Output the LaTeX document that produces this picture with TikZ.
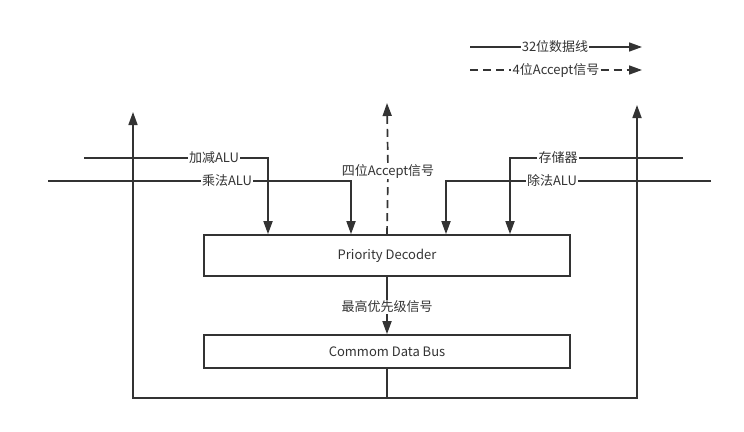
\documentclass[tikz,border=0pt]{standalone}
\usepackage{fontspec}
\setmainfont{Noto Sans CJK SC}
\usetikzlibrary{arrows.meta}
\definecolor{wiregray}{HTML}{333333}
\tikzstyle{bus}=[line width=1.7pt,draw=wiregray]
\tikzstyle{databus}=[bus,-{Triangle[length=13pt,width=9pt]}]
\tikzstyle{acceptbus}=[databus,dash pattern=on 8pt off 5pt]
\tikzstyle{unitbox}=[draw=wiregray,line width=1.7pt,minimum width=366pt,text=wiregray]
\tikzstyle{buslabel}=[fill=white,inner sep=1pt,text=wiregray]

\begin{document}
\begin{tikzpicture}[x=1pt,y=-1pt,font=\fontsize{13}{15}\selectfont]
  \useasboundingbox (0,0) rectangle (744,431);
  % boxes
  \node[unitbox,minimum height=41pt] (decoder) at (387,255.5) {Priority Decoder};
  \node[unitbox,minimum height=33pt] (cdb) at (387,351.5) {Commom Data Bus};
  % legend
  \coordinate (dataA) at (470,47);
  \coordinate (dataB) at (642,47);
  \coordinate (accA) at (470,70);
  \coordinate (accB) at (642,70);
  \node[buslabel] (datalbl) at (555,47) {32位数据线};
  \node[buslabel] (acclbl) at (556,70) {4位Accept信号};
  \draw[databus] (dataA) -- (datalbl) -- (dataB);
  \draw[acceptbus] (accA) -- (acclbl) -- (accB);
  % inputs from the units
  \coordinate (addin) at (84,158);
  \coordinate (mulin) at (48,181);
  \coordinate (memin) at (683,158);
  \coordinate (divin) at (711,181);
  \node[buslabel] (addlbl) at (214,158) {加减ALU};
  \node[buslabel] (mullbl) at (227,181) {乘法ALU};
  \node[buslabel] (memlbl) at (558,158) {存储器};
  \node[buslabel] (divlbl) at (552,181) {除法ALU};
  \draw[databus] (addin) -- (addlbl) -| (268,0 |- decoder.north);
  \draw[databus] (mulin) -- (mullbl) -| (351,0 |- decoder.north);
  \draw[databus] (memin) -- (memlbl) -| (510,0 |- decoder.north);
  \draw[databus] (divin) -- (divlbl) -| (446,0 |- decoder.north);
  % accept signal out
  \coordinate (acctip) at (387,103);
  \node[buslabel] (fourlbl) at (388,171) {四位Accept信号};
  \draw[acceptbus] (decoder.north) -- (fourlbl) -- (acctip);
  % priority signal
  \node[buslabel] (prilbl) at (387,307) {最高优先级信号};
  \draw[databus] (decoder.south) -- (prilbl) -- (cdb.north);
  % common data bus back to the units
  \coordinate (busL) at (133,398);
  \coordinate (busR) at (637,398);
  \coordinate (tipL) at (133,112);
  \coordinate (tipR) at (637,105);
  \draw[databus] (cdb.south) |- (busL) -- (tipL);
  \draw[databus] (cdb.south) |- (busR) -- (tipR);
\end{tikzpicture}
\end{document}
